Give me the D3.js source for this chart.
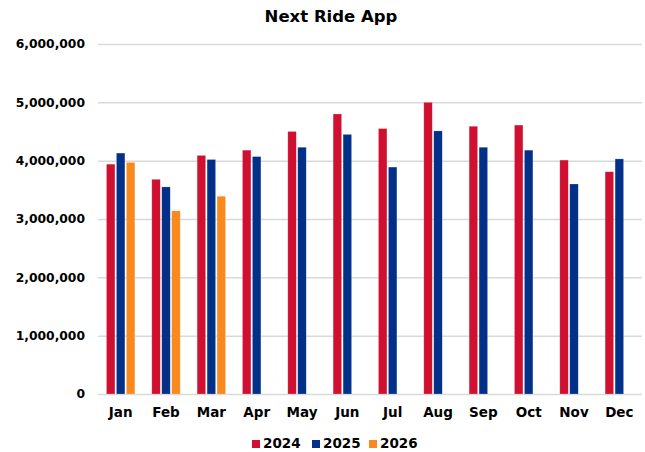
<!DOCTYPE html>
<html>
<head>
<meta charset="utf-8">
<script src="https://cdn.jsdelivr.net/npm/d3@7"></script>
<style>
    body { margin: 0; background: #fff; }
    text { font-family: "DejaVu Sans", Verdana, sans-serif; font-weight: bold; fill: #000; }
</style>
</head>
<body>
<div id="chart"></div>
<script>
const months = ['Jan', 'Feb', 'Mar', 'Apr', 'May', 'Jun', 'Jul', 'Aug', 'Sep', 'Oct', 'Nov', 'Dec'];
const seriesNames = ['2024', '2025', '2026'];
const colors = ['#d01030', '#003087', '#f7891f'];

const values2024 = [3940000, 3680000, 4090000, 4180000, 4500000, 4800000, 4550000, 5000000, 4590000, 4610000, 4010000, 3810000];
const values2025 = [4130000, 3550000, 4020000, 4070000, 4230000, 4450000, 3890000, 4510000, 4230000, 4180000, 3600000, 4030000];
const values2026 = [3970000, 3140000, 3390000];

const yTicks = [0, 1000000, 2000000, 3000000, 4000000, 5000000, 6000000];

const width = 645, height = 452;
const margin = { top: 44, right: 3, bottom: 58, left: 98 };
const innerW = width - margin.left - margin.right;
const innerH = height - margin.top - margin.bottom;

const allSeries = [values2024, values2025, values2026];
const data = [];
allSeries.forEach((vals, s) => {
    vals.forEach((v, i) => data.push({ month: months[i], series: seriesNames[s], value: v }));
});

const svg = d3.select('#chart').append('svg')
    .attr('width', width)
    .attr('height', height);

svg.append('text')
    .attr('x', 331)
    .attr('y', 22)
    .attr('text-anchor', 'middle')
    .style('font-size', '16.5px')
    .text('Next Ride App');

const g = svg.append('g')
    .attr('transform', `translate(${margin.left},${margin.top})`);

const x0 = d3.scaleBand().domain(months).range([0, innerW]);
const groupW = 28.4;
const x1 = d3.scaleBand().domain(seriesNames)
    .range([(x0.bandwidth() - groupW) / 2, (x0.bandwidth() + groupW) / 2])
    .paddingInner(0.15);
const y = d3.scaleLinear().domain([0, 6000000]).range([innerH, 0]);
const color = d3.scaleOrdinal().domain(seriesNames).range(colors);

// gridlines + y labels
const yAxis = g.append('g')
    .call(d3.axisLeft(y).tickValues(yTicks).tickSize(-innerW).tickPadding(13)
        .tickFormat(d3.format(',')));
yAxis.select('.domain').remove();
yAxis.selectAll('line').attr('stroke', '#d9d9d9').attr('stroke-width', 1.5);
yAxis.selectAll('text').style('font-size', '12.3px');

// bars
g.append('g')
    .selectAll('rect')
    .data(data)
    .enter()
    .append('rect')
    .attr('x', d => x0(d.month) + x1(d.series))
    .attr('y', d => y(d.value))
    .attr('width', x1.bandwidth())
    .attr('height', d => y(0) - y(d.value))
    .attr('fill', d => color(d.series))
    .attr('stroke', '#fff')
    .attr('stroke-opacity', 0.35)
    .attr('stroke-width', 0.6);

// x labels
const xAxis = g.append('g')
    .attr('transform', `translate(0,${innerH})`)
    .call(d3.axisBottom(x0).tickSize(0).tickPadding(13));
xAxis.select('.domain').remove();
xAxis.selectAll('text').style('font-size', '13.5px');

// legend
const legendX = [252, 312, 369];
const legend = svg.append('g')
    .selectAll('g')
    .data(seriesNames)
    .enter()
    .append('g')
    .attr('transform', (d, i) => `translate(${legendX[i]},440)`);

legend.append('rect')
    .attr('width', 8)
    .attr('height', 8)
    .attr('fill', d => color(d));

legend.append('text')
    .attr('x', 11)
    .attr('y', 8)
    .style('font-size', '13.5px')
    .text(d => d);
</script>
</body>
</html>
